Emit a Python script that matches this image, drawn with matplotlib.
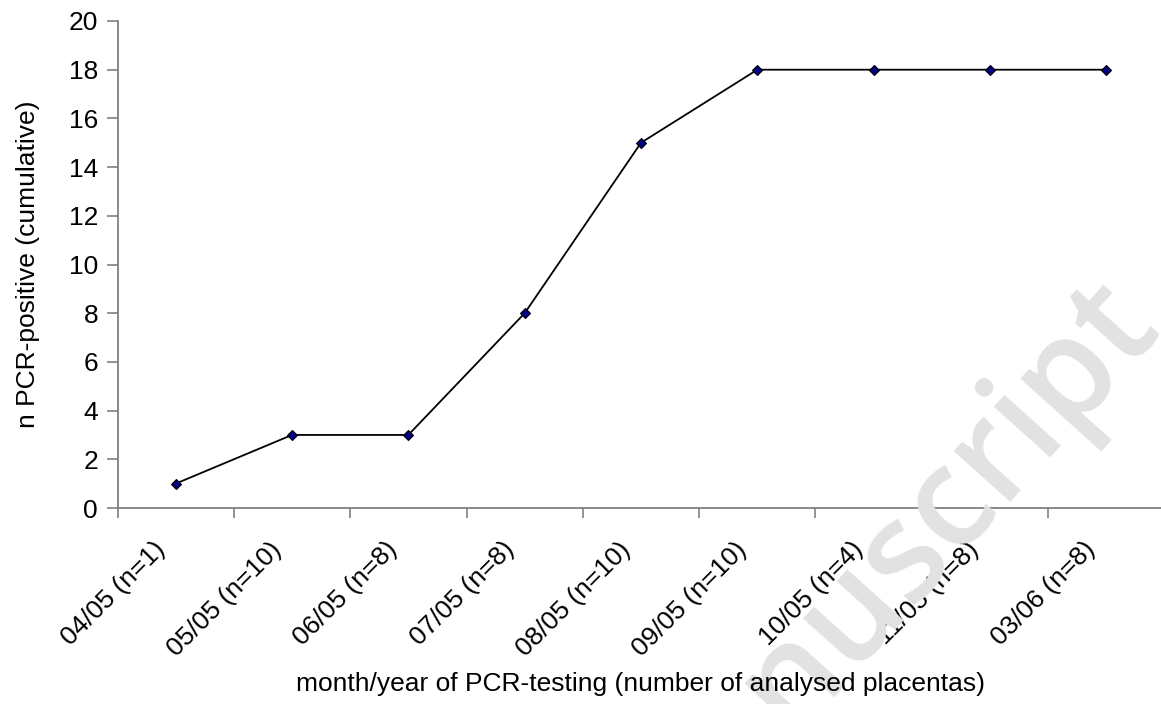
import matplotlib
matplotlib.use("Agg")
import matplotlib.pyplot as plt
from matplotlib.ticker import FixedLocator, NullFormatter
from matplotlib.transforms import ScaledTranslation

categories = ["04/05 (n=1)", "05/05 (n=10)", "06/05 (n=8)", "07/05 (n=8)",
              "08/05 (n=10)", "09/05 (n=10)", "10/05 (n=4)", "11/05 (n=8)",
              "03/06 (n=8)"]
cumulative_positive = [1, 3, 3, 8, 15, 18, 18, 18, 18]
y_ticks = [0, 2, 4, 6, 8, 10, 12, 14, 16, 18, 20]

plt.rcParams['font.family'] = ['Liberation Sans', 'DejaVu Sans']

W, H = 1161, 704
fig = plt.figure(figsize=(W / 100, H / 100), dpi=100)
fig.patch.set_facecolor('white')

# watermark
fig.text(1160 / W, 1 - 322 / H, "Manuscript", fontsize=100, color='#e2e2e2',
         family=['Open Sans', 'DejaVu Sans'], fontweight='semibold', rotation=48,
         ha='right', va='baseline', rotation_mode='anchor', zorder=0)

ax = fig.add_axes([117.5 / W, 1 - 508 / H, (1164.5 - 117.5) / W, 487 / H])
ax.set_facecolor('none')
x = list(range(len(categories)))
ax.plot(x, cumulative_positive, color='black', lw=1.3, marker='D', markersize=5,
        markerfacecolor='#000080', markeredgecolor='black', markeredgewidth=0.8,
        zorder=3, clip_on=False)

ax.set_xlim(-0.5, len(categories) - 0.5)
ax.set_ylim(0, 20)
ax.set_yticks(y_ticks)
ax.xaxis.set_major_locator(FixedLocator([i - 0.5 for i in range(len(categories) + 1)]))
ax.xaxis.set_major_formatter(NullFormatter())
ax.xaxis.set_minor_locator(FixedLocator(x))
ax.set_xticklabels(categories, minor=True, rotation=45, ha='right',
                   rotation_mode='anchor', fontsize=19)
ax.tick_params(axis='x', which='minor', length=0, pad=14)
ax.tick_params(axis='x', which='major', length=7, width=1.2, color='#808080', direction='out')
ax.tick_params(axis='y', length=8, width=1.2, color='#808080', direction='out',
               labelsize=19, pad=6)
off = ScaledTranslation(-23 / 100, -10 / 100, fig.dpi_scale_trans)
for lab in ax.get_xticklabels(minor=True):
    lab.set_transform(lab.get_transform() + off)

for s in ['top', 'right']:
    ax.spines[s].set_visible(False)
for s in ['left', 'bottom']:
    ax.spines[s].set_color('#808080')
    ax.spines[s].set_linewidth(1.3)

fig.text(640 / W, 1 - 684 / H, "month/year of PCR-testing (number of analysed placentas)",
         fontsize=19, ha='center', va='center')
fig.text(28 / W, 1 - 264 / H, "n PCR-positive (cumulative)", fontsize=19,
         rotation=90, ha='center', va='center')

fig.savefig("out.png", dpi=100)
